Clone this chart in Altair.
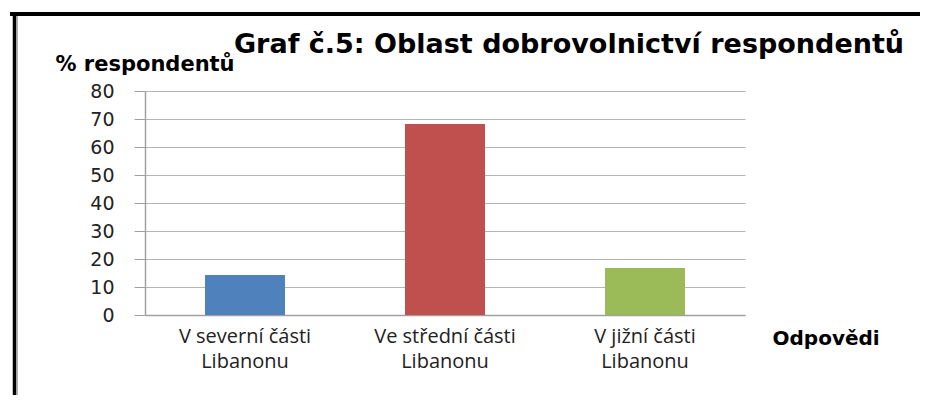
import altair as alt
import pandas as pd

categories = ["V severní části\nLibanonu", "Ve střední části\nLibanonu", "V jižní části\nLibanonu"]
values = [14.3, 68.2, 16.8]
colors = ["#4F81BD", "#C0504D", "#9BBB59"]
y_ticks = [0, 10, 20, 30, 40, 50, 60, 70, 80]
title_text = "Graf č.5: Oblast dobrovolnictví respondentů"
y_title = "% respondentů"
x_title = "Odpovědi"

df = pd.DataFrame({"cat": categories, "val": values})
one = pd.DataFrame({"t": [title_text]})

bars = alt.Chart(df).mark_bar().encode(
    x=alt.X("cat:N", sort=categories,
            scale=alt.Scale(paddingInner=0.6, paddingOuter=0.3),
            axis=alt.Axis(title=x_title, labelAngle=0, ticks=False,
                          labelExpr="split(datum.label, '\\n')",
                          labelFont="Open Sans", labelFontSize=20, labelColor="#222222",
                          labelLineHeight=25, labelPadding=11,
                          domainColor="#a0a0a0", domainWidth=1.5,
                          titleFont="DejaVu Sans", titleFontSize=20, titleFontWeight="bold",
                          titleColor="#000000", titleAlign="left", titleBaseline="middle",
                          titleX=627, titleY=23)),
    y=alt.Y("val:Q", scale=alt.Scale(domain=[0, 80]),
            axis=alt.Axis(title=y_title, values=y_ticks, grid=True, gridColor="#b5b5b5",
                          gridWidth=1.2, domainColor="#a0a0a0", domainWidth=1.5,
                          tickColor="#a0a0a0", tickSize=11, labelPadding=20,
                          labelFont="DejaVu Sans", labelFontSize=19, labelColor="#222222",
                          titleAngle=0, titleX=-90, titleY=-27, titleAlign="left",
                          titleBaseline="middle", titleFont="DejaVu Sans",
                          titleFontSize=21, titleFontWeight="bold", titleColor="#000000")),
    color=alt.Color("cat:N", scale=alt.Scale(domain=categories, range=colors), legend=None),
)

border_top = alt.Chart(one).mark_rule(color="#000000", strokeWidth=4).encode(
    x=alt.value(-135), x2=alt.value(790), y=alt.value(-77))
border_left = alt.Chart(one).mark_rule(color="#000000", strokeWidth=3.5).encode(
    x=alt.value(-130.5), y=alt.value(-77), y2=alt.value(320))
shadow = alt.Chart(one).mark_rule(color="#999999", strokeWidth=1.5).encode(
    x=alt.value(-128), y=alt.value(-75), y2=alt.value(320))

title = alt.Chart(one).mark_text(font="DejaVu Sans", fontSize=27, fontWeight="bold",
                                 color="#000000", align="center", baseline="middle").encode(
    text="t:N", x=alt.value(424), y=alt.value(-46))

chart = alt.layer(border_top, border_left, shadow, bars, title).properties(
    width=600, height=224,
    autosize=alt.AutoSizeParams(type="none"),
    padding={"left": 137, "top": 83, "right": 175, "bottom": 80},
    background="#ffffff",
).configure_view(stroke=None)

chart.save("out.html", embed_options={"renderer": "svg", "actions": False})
